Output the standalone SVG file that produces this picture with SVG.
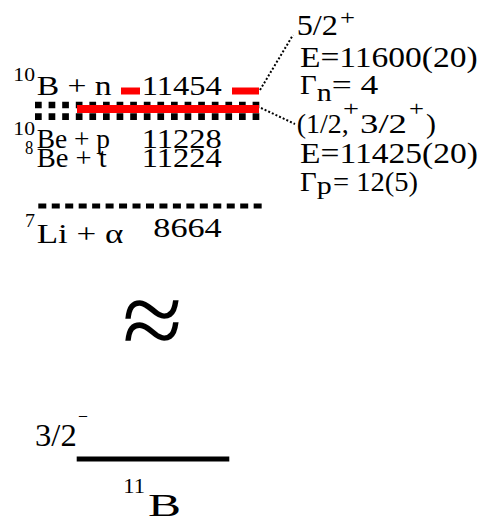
<svg xmlns="http://www.w3.org/2000/svg" width="481" height="522" viewBox="0 0 481 522" font-family="Liberation Serif, serif">
<style>
text{fill:#000}
.t{font-size:28px}
.s{font-size:18px}
.r{font-size:30px}
.red{stroke:#ff0000;fill:none}
.dot{stroke:#000;fill:none;stroke-width:6.7;stroke-dasharray:6.7 6.9}
.lead{stroke:#000;fill:none;stroke-width:2;stroke-dasharray:2 2}
</style>
<rect width="481" height="522" fill="#fff"/>
<g id="thresholds">
<line class="dot" x1="35" y1="105" x2="259.3" y2="105"/>
<line class="dot" x1="35" y1="116.7" x2="259.3" y2="116.7"/>
<line x1="38.3" y1="206" x2="262" y2="206" stroke="#000" stroke-width="5" stroke-dasharray="8 5.46"/>
</g>
<g id="level-11454">
<line class="red" x1="121" y1="91" x2="140" y2="91" stroke-width="7"/>
<line class="red" x1="232" y1="91" x2="259" y2="91" stroke-width="7"/>
</g>
<g id="level-11425">
<line class="red" x1="77" y1="109" x2="259" y2="109" stroke-width="8"/>
</g>
<g id="label-Bn">
<text class="s" x="13.3" y="80.7" textLength="21.7" lengthAdjust="spacingAndGlyphs">10</text>
<text class="t" x="36.7" y="95" textLength="75" lengthAdjust="spacingAndGlyphs">B + n</text>
<text class="t" x="141.7" y="95" textLength="80" lengthAdjust="spacingAndGlyphs">11454</text>
</g>
<g id="label-Bep">
<text class="s" x="13.3" y="135.4" textLength="21.7" lengthAdjust="spacingAndGlyphs">10</text>
<text class="t" x="36.7" y="148.3" textLength="73.3" lengthAdjust="spacingAndGlyphs">Be + p</text>
<text class="t" x="141.7" y="148.3" textLength="80" lengthAdjust="spacingAndGlyphs">11228</text>
</g>
<g id="label-Bet">
<text class="s" x="25" y="154" textLength="8.3" lengthAdjust="spacingAndGlyphs">8</text>
<text class="t" x="36.7" y="167.3" textLength="70" lengthAdjust="spacingAndGlyphs">Be + t</text>
<text class="t" x="141.7" y="167.3" textLength="80" lengthAdjust="spacingAndGlyphs">11224</text>
</g>
<g id="label-Lia">
<text class="s" x="25" y="227.3" textLength="10" lengthAdjust="spacingAndGlyphs">7</text>
<text class="t" x="36.7" y="243.3" textLength="86.6" lengthAdjust="spacingAndGlyphs">Li + α</text>
<text class="t" x="153.3" y="236.7" textLength="68.4" lengthAdjust="spacingAndGlyphs">8664</text>
</g>
<g id="state-52">
<text class="r" x="296.7" y="35" textLength="41.3" lengthAdjust="spacingAndGlyphs">5/2</text>
<text x="340" y="24.5" font-size="22" textLength="15" lengthAdjust="spacingAndGlyphs">+</text>
<text class="r" x="300" y="66.7" textLength="177.7" lengthAdjust="spacingAndGlyphs">E=11600(20)</text>
<text class="t" x="300" y="94" textLength="16.7" lengthAdjust="spacingAndGlyphs">Γ</text>
<text x="316.7" y="100.5" font-size="26" textLength="15" lengthAdjust="spacingAndGlyphs">n</text>
<text class="t" x="331.7" y="94" textLength="46.6" lengthAdjust="spacingAndGlyphs">= 4</text>
</g>
<g id="state-12-32">
<text class="t" x="296.7" y="133" textLength="52" lengthAdjust="spacingAndGlyphs">(1/2,</text>
<text x="343" y="115.6" font-size="22" textLength="16" lengthAdjust="spacingAndGlyphs">+</text>
<text class="t" x="360" y="133" textLength="47" lengthAdjust="spacingAndGlyphs">3/2</text>
<text x="409" y="115.6" font-size="22" textLength="15" lengthAdjust="spacingAndGlyphs">+</text>
<text class="t" x="426" y="133" textLength="10" lengthAdjust="spacingAndGlyphs">)</text>
<text class="r" x="300" y="163.3" textLength="178" lengthAdjust="spacingAndGlyphs">E=11425(20)</text>
<text class="t" x="300" y="190.7" textLength="16.7" lengthAdjust="spacingAndGlyphs">Γ</text>
<text x="316.7" y="193.5" font-size="26" textLength="15" lengthAdjust="spacingAndGlyphs">p</text>
<text class="t" x="333" y="190.7" textLength="85" lengthAdjust="spacingAndGlyphs">= 12(5)</text>
</g>
<g id="connectors">
<line class="lead" x1="260" y1="90" x2="293" y2="35"/>
<line class="lead" x1="261" y1="108" x2="295" y2="124"/>
</g>
<g id="break">
<text x="152.5" y="357" font-size="110" text-anchor="middle">≈</text>
</g>
<g id="ground-11B">
<text x="35" y="445.7" font-size="32" textLength="41.7" lengthAdjust="spacingAndGlyphs">3/2</text>
<text x="78" y="422.7" font-size="20" textLength="10" lengthAdjust="spacingAndGlyphs">−</text>
<line x1="76.7" y1="459" x2="229.3" y2="459" stroke="#000" stroke-width="5"/>
<text x="123.3" y="493.3" font-size="20" textLength="21.7" lengthAdjust="spacingAndGlyphs">11</text>
<text x="148" y="516" font-size="32" textLength="33" lengthAdjust="spacingAndGlyphs">B</text>
</g>
</svg>
